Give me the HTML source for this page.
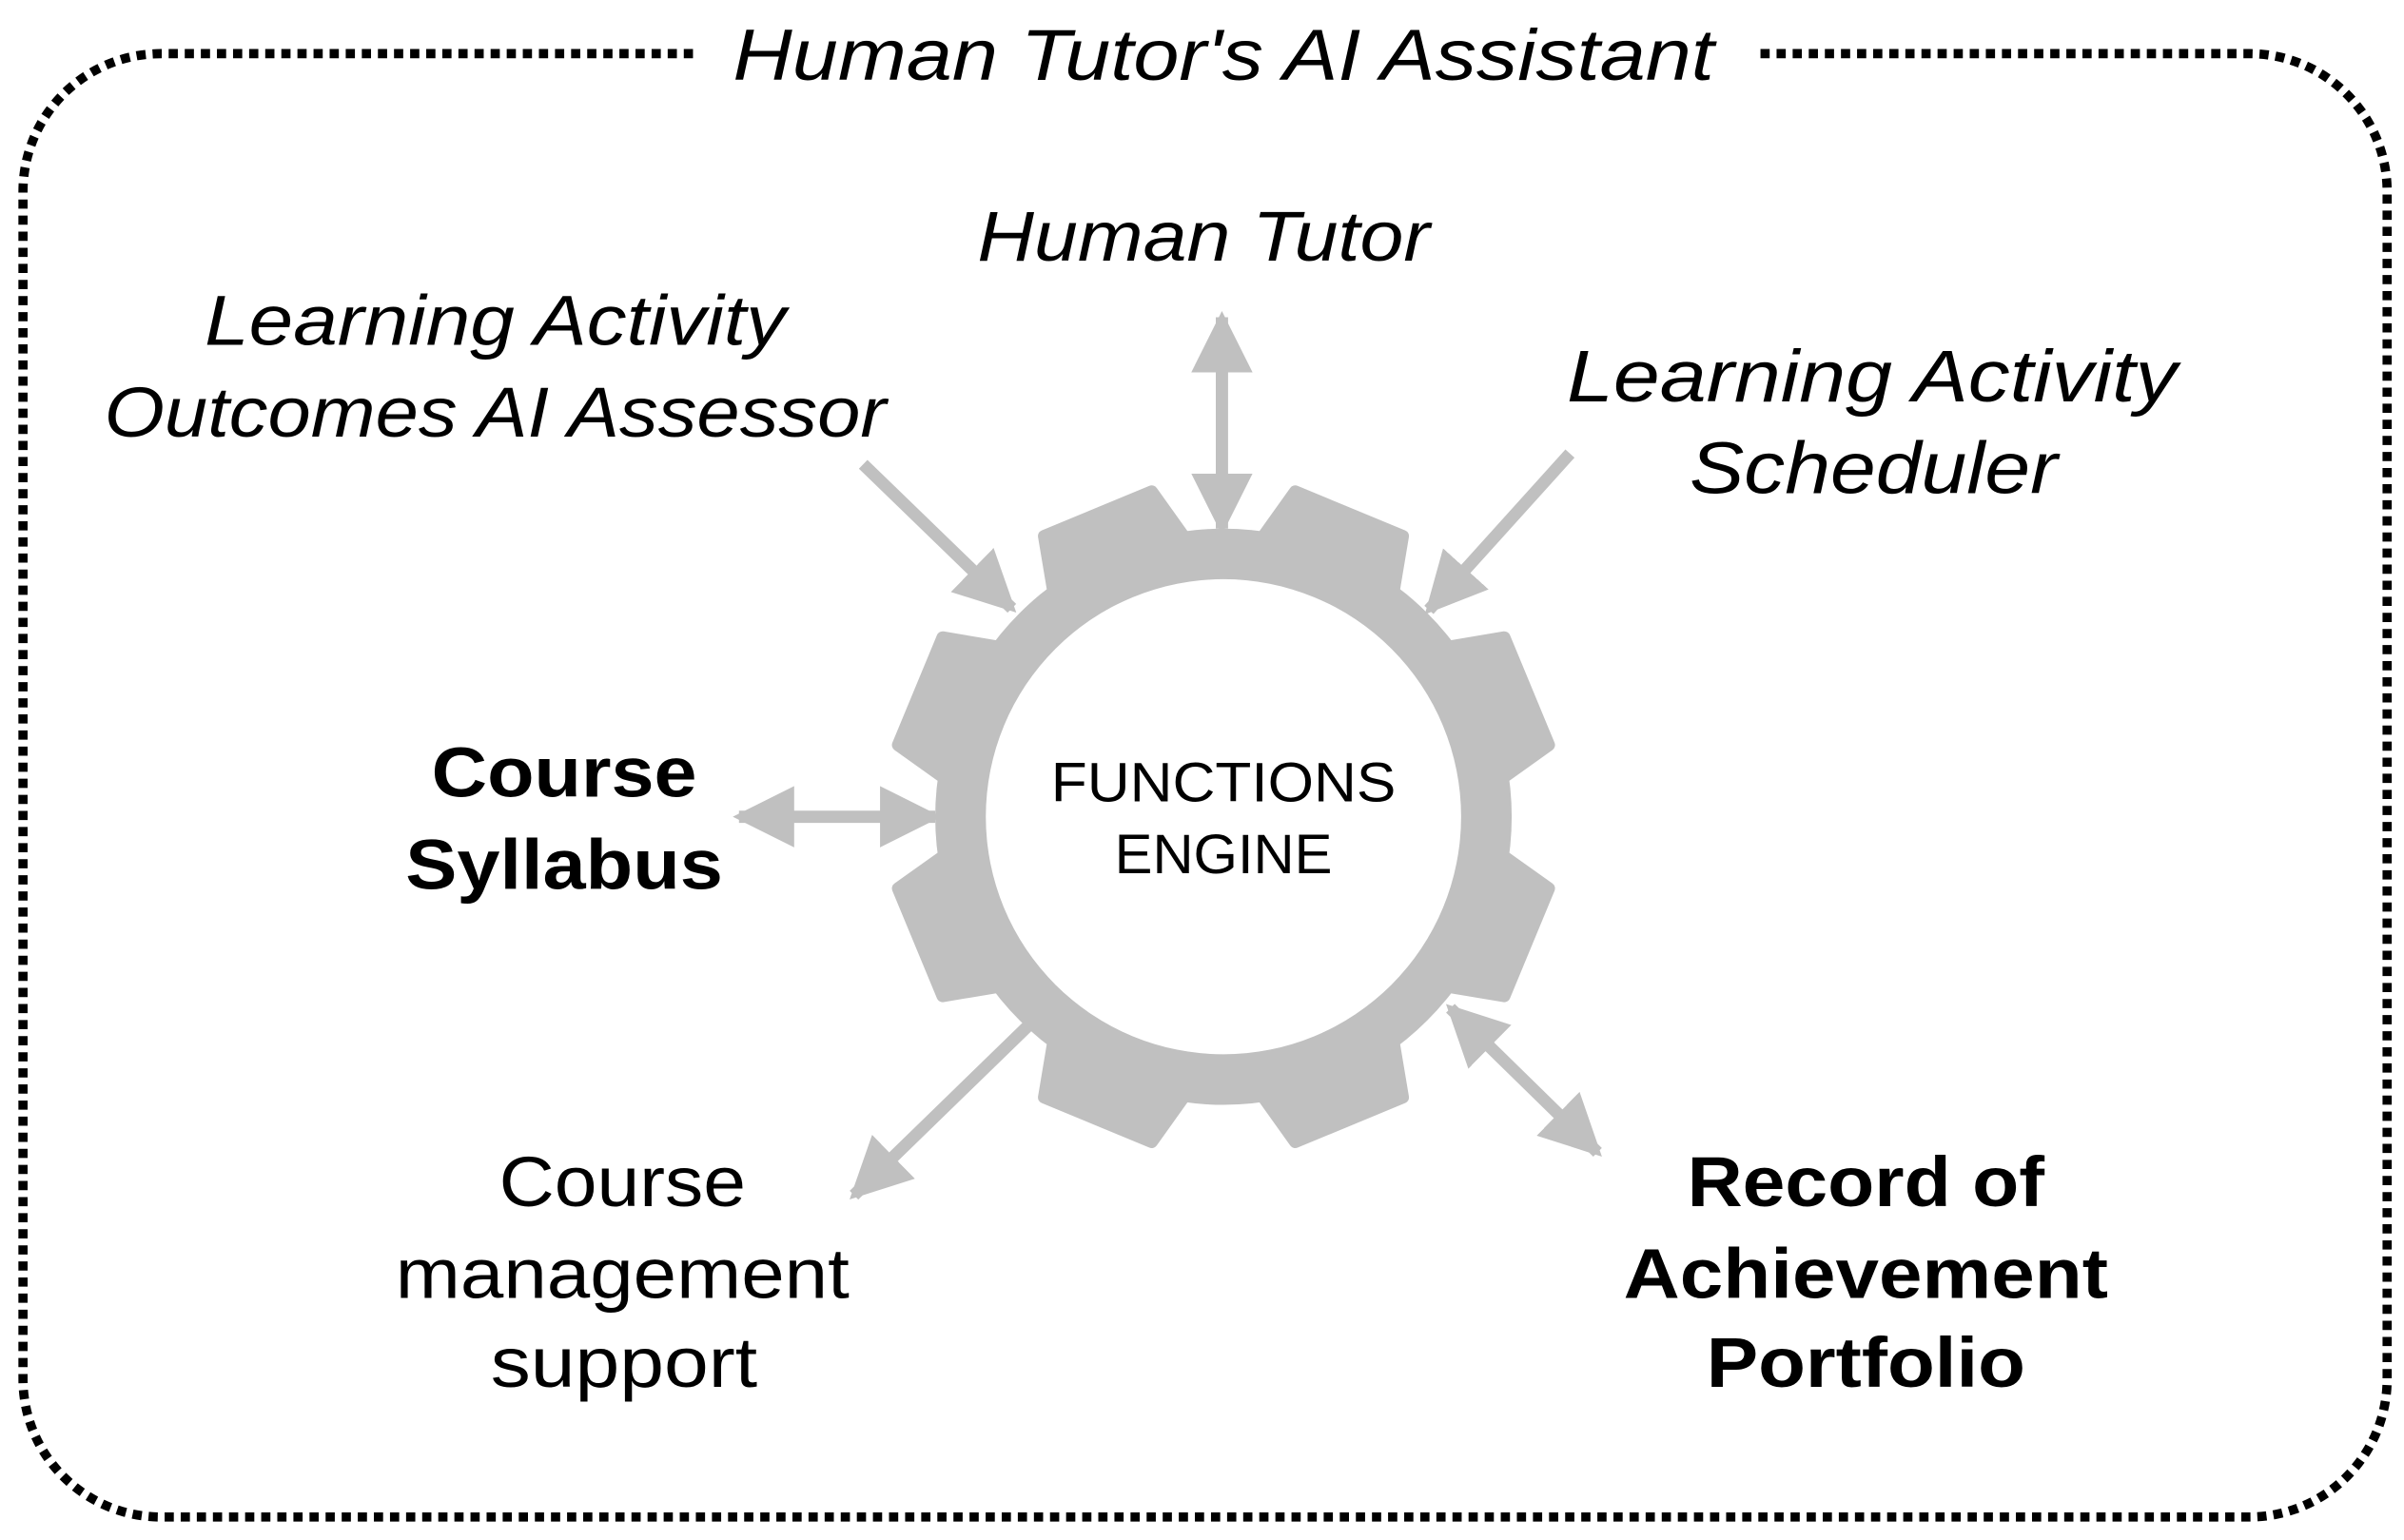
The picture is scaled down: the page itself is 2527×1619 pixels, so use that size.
<!DOCTYPE html>
<html><head><meta charset="utf-8"><style>
html,body{margin:0;padding:0;background:#fff;}
svg{display:block;}
text{font-family:"Liberation Sans",sans-serif;fill:#000;}
.i{font-style:italic;}
.b{font-weight:bold;}
</style></head><body>
<svg width="2527" height="1619" viewBox="0 0 1568 1005" xmlns="http://www.w3.org/2000/svg" preserveAspectRatio="none">
<defs>
<marker id="ah" viewBox="0 0 10 10" refX="9" refY="5" markerWidth="5" markerHeight="5" orient="auto-start-reverse" markerUnits="strokeWidth">
<path d="M0,0 L10,5 L0,10 z" fill="#c0c0c0"/>
</marker>
<polygon id="t" points="-47,-175 47,-175 38,-214 -38,-214" stroke="#c0c0c0" stroke-width="8" stroke-linejoin="round"/>
</defs>
<!-- dotted border -->
<path d="M452,35 L105,35 A90,90 0 0 0 15,125 L15,900 A90,90 0 0 0 105,990 L1467,990 A90,90 0 0 0 1557,900 L1557,125 A90,90 0 0 0 1467,35 L1145,35" fill="none" stroke="#000" stroke-width="6" stroke-dasharray="6 4.5"/>
<text class="i" x="798" y="52" font-size="47" text-anchor="middle" textLength="640" lengthAdjust="spacingAndGlyphs">Human Tutor's AI Assistant</text>

<!-- gear -->
<g fill="#c0c0c0" transform="translate(798,533)">
<circle r="188"/>
<use href="#t" transform="rotate(22.5)"/>
<use href="#t" transform="rotate(67.5)"/>
<use href="#t" transform="rotate(112.5)"/>
<use href="#t" transform="rotate(157.5)"/>
<use href="#t" transform="rotate(202.5)"/>
<use href="#t" transform="rotate(247.5)"/>
<use href="#t" transform="rotate(292.5)"/>
<use href="#t" transform="rotate(337.5)"/>
<circle r="155" fill="#fff"/>
</g>
<text x="798" y="523" font-size="36" text-anchor="middle" textLength="225" lengthAdjust="spacingAndGlyphs">FUNCTIONS</text>
<text x="798" y="570" font-size="36" text-anchor="middle" textLength="142" lengthAdjust="spacingAndGlyphs">ENGINE</text>

<!-- arrows -->
<g stroke="#c0c0c0" stroke-width="8" fill="none">
<line x1="797" y1="207" x2="797" y2="345" marker-start="url(#ah)" marker-end="url(#ah)"/>
<line x1="563" y1="303" x2="660" y2="397" marker-end="url(#ah)"/>
<line x1="1024" y1="296" x2="932" y2="398" marker-end="url(#ah)"/>
<line x1="482" y1="533" x2="610" y2="533" marker-start="url(#ah)" marker-end="url(#ah)"/>
<line x1="670" y1="670" x2="557" y2="780" marker-end="url(#ah)"/>
<line x1="946" y1="658" x2="1042" y2="752" marker-start="url(#ah)" marker-end="url(#ah)"/>
</g>

<!-- labels -->
<text class="i" x="785" y="170" font-size="46" text-anchor="middle" textLength="295" lengthAdjust="spacingAndGlyphs">Human Tutor</text>
<text class="i" x="323" y="225" font-size="46" text-anchor="middle" textLength="379" lengthAdjust="spacingAndGlyphs">Learning Activity</text>
<text class="i" x="323" y="285" font-size="46" text-anchor="middle" textLength="510" lengthAdjust="spacingAndGlyphs">Outcomes AI Assessor</text>
<text class="i" x="1221" y="262" font-size="48" text-anchor="middle" textLength="398" lengthAdjust="spacingAndGlyphs">Learning Activity</text>
<text class="i" x="1222" y="322" font-size="48" text-anchor="middle" textLength="240" lengthAdjust="spacingAndGlyphs">Scheduler</text>
<text class="b" x="368" y="520" font-size="46" text-anchor="middle" textLength="173" lengthAdjust="spacingAndGlyphs">Course</text>
<text class="b" x="368" y="580" font-size="46" text-anchor="middle" textLength="207" lengthAdjust="spacingAndGlyphs">Syllabus</text>
<text x="406" y="787" font-size="46" text-anchor="middle" textLength="161" lengthAdjust="spacingAndGlyphs">Course</text>
<text x="406" y="847" font-size="46" text-anchor="middle" textLength="296" lengthAdjust="spacingAndGlyphs">management</text>
<text x="407" y="905" font-size="46" text-anchor="middle" textLength="174" lengthAdjust="spacingAndGlyphs">support</text>
<text class="b" x="1217" y="787" font-size="46" text-anchor="middle" textLength="233" lengthAdjust="spacingAndGlyphs">Record of</text>
<text class="b" x="1217" y="847" font-size="46" text-anchor="middle" textLength="316" lengthAdjust="spacingAndGlyphs">Achievement</text>
<text class="b" x="1217" y="905" font-size="46" text-anchor="middle" textLength="208" lengthAdjust="spacingAndGlyphs">Portfolio</text>
</svg>
</body></html>
